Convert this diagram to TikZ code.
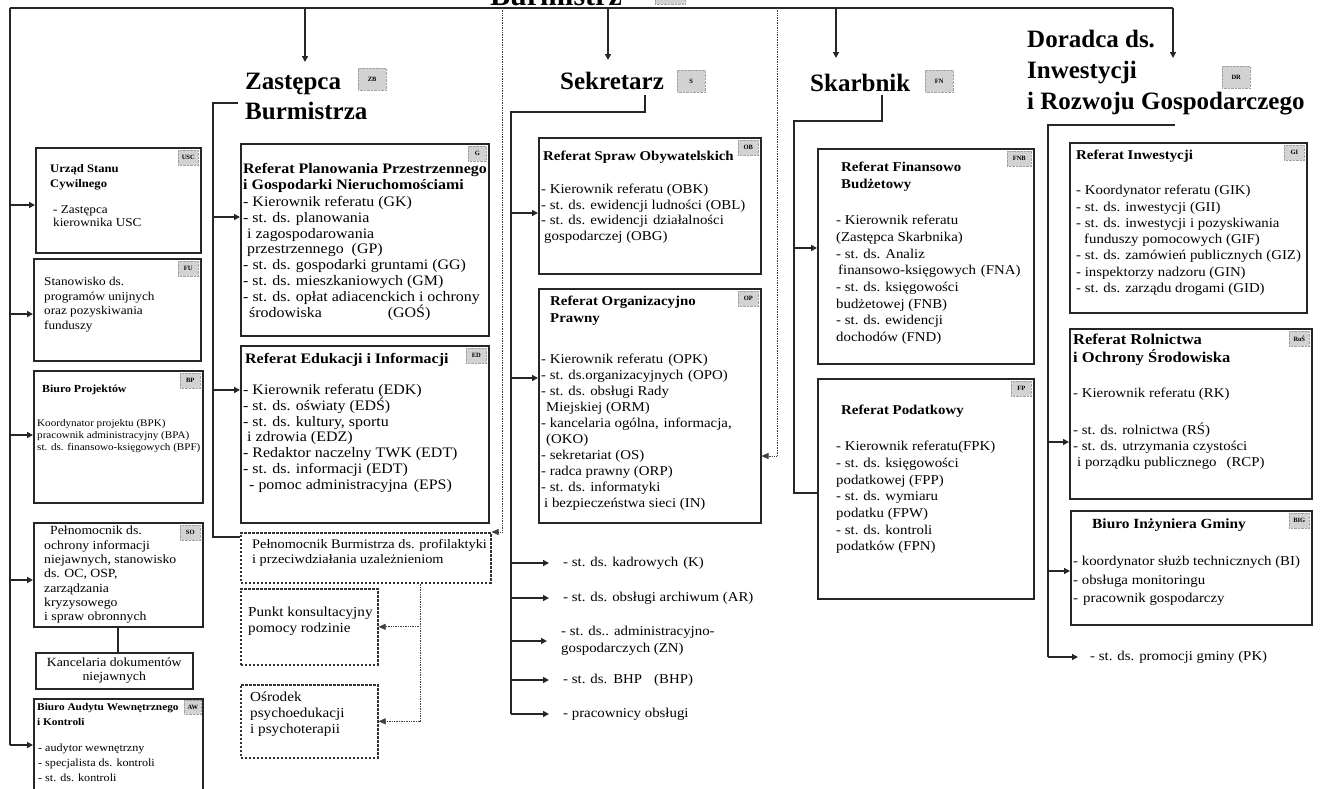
\documentclass[tikz,border=0pt]{standalone}
\usepackage{fontspec}
\setmainfont{Liberation Serif}
\newfontfamily\bodyf{Liberation Serif}[FakeStretch=1.1]
\usetikzlibrary{arrows.meta}
\tikzset{
 conn/.style={line width=2.2pt, black!85},
 arr/.style={conn, -{Triangle[length=6pt,width=6pt]}},
 bx/.style={draw=black!85, line width=1.5pt, anchor=north west, inner sep=0pt},
 dbx/.style={draw=black!80, line width=1.6pt, dash pattern=on 2.5pt off 1.5pt, anchor=north west, inner sep=0pt},
 code/.style={draw=gray!75, densely dotted, fill=gray!35, font=\bfseries\fontsize{6.5}{7}\selectfont, inner sep=1pt, anchor=north east, minimum width=20pt, minimum height=15pt},
 bigcode/.style={code, anchor=north west, minimum width=28pt, minimum height=22pt},
 txt/.style={anchor=north west, inner sep=0pt, align=left, font=\bodyf\fontsize{13.5}{16.5}\selectfont},
 btxt/.style={txt, font=\bodyf\bfseries\fontsize{13.5}{17}\selectfont},
 ptxt/.style={txt, font=\bodyf\fontsize{14.5}{15.8}\selectfont},
 pbtxt/.style={txt, font=\bodyf\bfseries\fontsize{14.5}{16}\selectfont},
 head/.style={anchor=north west, inner sep=0pt, align=left, font=\bfseries\fontsize{25}{30}\selectfont},
 dots/.style={densely dotted, line width=0.7pt, black!75},
 dotarr/.style={dots, -{Triangle[length=7pt,width=6pt]}},
}
\begin{document}
\begin{tikzpicture}[x=1pt,y=-1pt]
\useasboundingbox (0,0) rectangle (1321,788);
\clip (0,0) rectangle (1321,788);
\fill[white] (0,0) rectangle (1321,788);

% ---------------- Burmistrz (cut at top)
\node[anchor=base, inner sep=0pt, font=\bfseries\fontsize{30}{30}\selectfont] (bur) at (556,5) {Burmistrz};
\node[code, anchor=south west, minimum width=30pt, minimum height=16pt] (burc) at (655,4) {B};

\coordinate (tl) at (10,8);
\coordinate (tr) at (1173,8);
\coordinate (a1) at (305,8);
\coordinate (a2) at (608,8);
\coordinate (a3) at (836,8);
\coordinate (a1e) at (305,62);
\coordinate (a2e) at (608,60);
\coordinate (a3e) at (836,58);
\coordinate (a4e) at (1173,58);
\draw[conn, line width=2.4pt] (tl) -- (tr);
\draw[arr] (a1) -- (a1e);
\draw[arr] (a2) -- (a2e);
\draw[arr] (a3) -- (a3e);
\draw[arr] (tr) -- (a4e);

% ---------------- left column
\node[bx, minimum width=165pt, minimum height=105pt] (usc) at (35,147) {};
\node[code] (uscc) at ([xshift=-3pt,yshift=-3pt]usc.north east) {USC};
\node[txt, font=\bodyf\bfseries\fontsize{11.5}{15}\selectfont] (usct) at (50,164) {Urząd Stanu\\Cywilnego};
\node[txt, font=\bodyf\fontsize{12}{13}\selectfont] (usct2) at (53,205) {- Zastępca\\kierownika USC};

\node[bx, minimum width=167pt, minimum height=102pt] (fu) at (33,258) {};
\node[code] (fuc) at ([xshift=-3pt,yshift=-3pt]fu.north east) {FU};
\node[txt, font=\bodyf\fontsize{12}{14.7}\selectfont] (fut) at (44,277) {Stanowisko ds.\\programów unijnych\\oraz pozyskiwania\\funduszy};

\node[bx, minimum width=169pt, minimum height=132pt] (bp) at (33,370) {};
\node[code] (bpc) at ([xshift=-3pt,yshift=-3pt]bp.north east) {BP};
\node[txt, font=\bodyf\bfseries\fontsize{10.8}{12}\selectfont] (bpt) at (42,385) {Biuro Projektów};
\node[txt, font=\bodyf\fontsize{10.1}{12.2}\selectfont] (bpt2) at (37,419) {Koordynator projektu (BPK)\\pracownik administracyjny (BPA)\\st. ds. finansowo-księgowych (BPF)};

\node[bx, minimum width=169pt, minimum height=104pt] (so) at (33,522) {};
\node[code] (soc) at ([xshift=-3pt,yshift=-3pt]so.north east) {SO};
\node[txt, font=\bodyf\fontsize{12.5}{14.3}\selectfont] (sot) at (44,526) {\hspace*{6pt}Pełnomocnik ds.\\ochrony informacji\\niejawnych, stanowisko\\ds. OC, OSP,\\zarządzania\\kryzysowego\\i spraw obronnych};

\node[bx, minimum width=157pt, minimum height=36pt] (kanc) at (35,652) {};
\node[font=\bodyf\fontsize{12.5}{14}\selectfont, align=center, inner sep=0pt] (kanct) at (kanc.center) {Kancelaria dokumentów\\niejawnych};
\draw[conn] (so.south) -- (so.south |- kanc.north);

\node[bx, minimum width=169pt, minimum height=100pt] (aw) at (33,698) {};
\node[code, minimum width=17pt, minimum height=14pt] (awc) at ([xshift=-2pt,yshift=-2pt]aw.north east) {AW};
\node[txt, font=\bodyf\bfseries\fontsize{10.3}{15}\selectfont] (awt) at (37,703) {Biuro Audytu Wewnętrznego\\i Kontroli};
\node[txt, font=\bodyf\fontsize{11}{15}\selectfont] (awt2) at (38,744) {- audytor wewnętrzny\\- specjalista ds. kontroli\\- st. ds. kontroli};

\coordinate (ls1) at (10,205);
\coordinate (ls2) at (10,314);
\coordinate (ls3) at (10,435);
\coordinate (ls4) at (10,580);
\coordinate (ls5) at (10,745);
\draw[conn, line width=2.4pt] (tl) -- (ls5);
\draw[arr] (ls1) -- (ls1 -| usc.west);
\draw[arr] (ls2) -- (ls2 -| fu.west);
\draw[arr] (ls3) -- (ls3 -| bp.west);
\draw[arr] (ls4) -- (ls4 -| so.west);
\draw[arr] (ls5) -- (ls5 -| aw.west);

% ---------------- Zastepca Burmistrza
\node[head] (zhead) at (245,73) {Zastępca\\Burmistrza};
\node[bigcode] (zheadc) at (358,68) {ZB};

\node[bx, minimum width=248pt, minimum height=192pt] (plan) at (240,143) {};
\node[code, minimum width=18pt] (planc) at ([xshift=-3pt,yshift=-3pt]plan.north east) {G};
\node[pbtxt] (plant) at (243,163) {Referat Planowania Przestrzennego\\i Gospodarki Nieruchomościami};
\node[ptxt] (plant2) at (243,196) {- Kierownik referatu (GK)\\- st. ds. planowania\\\hspace*{4pt}i zagospodarowania\\\hspace*{4pt}przestrzennego\hspace{8pt}(GP)\\- st. ds. gospodarki gruntami (GG)\\- st. ds. mieszkaniowych (GM)\\-\hspace{4pt}st. ds. opłat adiacenckich i ochrony\\\hspace*{6pt}środowiska\hspace{66pt}(GOŚ)};

\node[bx, minimum width=248pt, minimum height=177pt] (edu) at (240,345) {};
\node[code] (educ) at ([xshift=-3pt,yshift=-3pt]edu.north east) {ED};
\node[pbtxt] (edut) at (245,353) {Referat Edukacji i Informacji};
\node[ptxt] (edut2) at (243,384) {- Kierownik referatu (EDK)\\- st. ds. oświaty (EDŚ)\\- st. ds. kultury, sportu\\\hspace*{4pt}i zdrowia (EDZ)\\- Redaktor naczelny TWK (EDT)\\- st. ds. informacji (EDT)\\\hspace*{6pt}- pomoc administracyjna\hspace{6pt}(EPS)};

\node[dbx, minimum width=250pt, minimum height=50pt] (pb) at (240,532) {};
\node[txt, font=\bodyf\fontsize{13}{15}\selectfont] (pbt) at (252,539) {Pełnomocnik Burmistrza ds. profilaktyki\\i przeciwdziałania uzależnieniom};

\node[dbx, minimum width=137pt, minimum height=76pt] (pk) at (240,588) {};
\node[txt, font=\bodyf\fontsize{13.8}{16}\selectfont] (pkt) at (248,607) {Punkt konsultacyjny\\pomocy rodzinie};

\node[dbx, minimum width=137pt, minimum height=73pt] (os) at (240,684) {};
\node[txt, font=\bodyf\fontsize{13.8}{16}\selectfont] (ost) at (250,692) {Ośrodek\\psychoedukacji\\i psychoterapii};

\coordinate (zc) at (238,103);
\coordinate (zs) at (213,103);
\coordinate (zb) at (213,537);
\coordinate (zs1) at (213,217);
\coordinate (zs2) at (213,390);
\draw[conn] (zc) -- (zs) -- (zb) -- (zb -| pb.west);
\draw[arr] (zs1) -- (zs1 -| plan.west);
\draw[arr] (zs2) -- (zs2 -| edu.west);

\coordinate (x420) at (420,0);
\draw[dotarr] (pb.south -| x420) |- (pk.east);
\draw[dotarr] (pb.south -| x420) |- (os.east);
\coordinate (d1) at (502,8);
\draw[dotarr] (d1) |- (pb.north east);

% ---------------- Sekretarz
\node[head] (shead) at (560,72) {Sekretarz};
\node[bigcode] (sheadc) at (677,70) {S};

\node[bx, minimum width=222pt, minimum height=136pt] (obyw) at (538,137) {};
\node[code] (obywc) at ([xshift=-3pt,yshift=-3pt]obyw.north east) {OB};
\node[btxt] (obywt) at (543,151) {Referat Spraw Obywatelskich};
\node[txt, font=\bodyf\fontsize{13.5}{15.5}\selectfont] (obywt2) at (541,184) {- Kierownik referatu (OBK)\\- st. ds. ewidencji ludności (OBL)\\- st. ds. ewidencji\hspace{5pt}działalności\\\hspace*{3pt}gospodarczej (OBG)};

\node[bx, minimum width=222pt, minimum height=234pt] (org) at (538,288) {};
\node[code] (orgc) at ([xshift=-3pt,yshift=-3pt]org.north east) {OP};
\node[btxt] (orgt) at (550,296) {Referat Organizacyjno\\Prawny};
\node[txt, font=\bodyf\fontsize{13.5}{16}\selectfont] (orgt2) at (541,354) {- Kierownik referatu\hspace{5pt}(OPK)\\- st. ds.organizacyjnych\hspace{5pt}(OPO)\\- st. ds. obsługi Rady\\\hspace*{5pt}Miejskiej (ORM)\\- kancelaria ogólna,\hspace{5pt}informacja,\\\hspace*{5pt}(OKO)\\- sekretariat (OS)\\- radca prawny (ORP)\\- st. ds. informatyki\\\hspace*{3pt}i bezpieczeństwa sieci (IN)};

\node[txt, anchor=west] (k1) at (563,563) {- st. ds. kadrowych\hspace{5pt}(K)};
\node[txt, anchor=west] (k2) at (563,598) {- st. ds. obsługi archiwum (AR)};
\node[txt, anchor=west] (k3) at (561,641) {- st. ds.. administracyjno-\\gospodarczych (ZN)};
\node[txt, anchor=west] (k4) at (563,680) {- st. ds.\hspace{6pt}BHP\hspace{12pt}(BHP)};
\node[txt, anchor=west] (k5) at (563,714) {- pracownicy obsługi};

\coordinate (sc) at (645,95);
\coordinate (s0) at (645,112);
\coordinate (s1) at (511,112);
\coordinate (s2) at (511,714);
\coordinate (ss1) at (511,213);
\coordinate (ss2) at (511,378);
\draw[conn] (sc) -- (s0) -- (s1) -- (s2);
\draw[arr] (ss1) -- (ss1 -| obyw.west);
\draw[arr] (ss2) -- (ss2 -| org.west);
\foreach \k in {k1,k2,k3,k4,k5}{
  \draw[arr] (\k.west -| s1) -- ([xshift=-14pt]\k.west);
}
\coordinate (d2) at (777,8);
\coordinate (osl) at (777,456);
\draw[dotarr] (d2) -- (osl) -- (osl -| org.east);

% ---------------- Skarbnik
\node[head] (fhead) at (810,74) {Skarbnik};
\node[bigcode] (fheadc) at (925,70) {FN};

\node[bx, minimum width=216pt, minimum height=215pt] (fin) at (817,148) {};
\node[code, minimum width=24pt] (finc) at ([xshift=-3pt,yshift=-3pt]fin.north east) {FNB};
\node[btxt] (fint) at (841,162) {Referat Finansowo\\Budżetowy};
\node[txt, font=\bodyf\fontsize{13.5}{16.7}\selectfont] (fint2) at (836,215) {- Kierownik referatu\\(Zastępca Skarbnika)\\- st. ds. Analiz\\\hspace*{2pt}finansowo-księgowych\hspace{5pt}(FNA)\\- st. ds. księgowości\\budżetowej (FNB)\\- st. ds. ewidencji\\dochodów (FND)};

\node[bx, minimum width=216pt, minimum height=220pt] (pod) at (817,378) {};
\node[code] (podc) at ([xshift=-3pt,yshift=-3pt]pod.north east) {FP};
\node[btxt] (podt) at (841,405) {Referat Podatkowy};
\node[txt, font=\bodyf\fontsize{13.5}{16.7}\selectfont] (podt2) at (836,441) {- Kierownik referatu(FPK)\\- st. ds. księgowości\\podatkowej (FPP)\\- st. ds. wymiaru\\podatku (FPW)\\- st. ds. kontroli\\podatków (FPN)};

\coordinate (fc) at (882,95);
\coordinate (f0) at (882,121);
\coordinate (f1) at (794,121);
\coordinate (f2) at (794,493);
\coordinate (fs1) at (794,248);
\draw[conn] (fc) -- (f0) -- (f1) -- (f2) -- (f2 -| pod.west);
\draw[arr] (fs1) -- (fs1 -| fin.west);

% ---------------- Doradca
\node[head, font=\bfseries\fontsize{25}{31}\selectfont] (dhead) at (1027,30) {Doradca ds.\\Inwestycji\\i Rozwoju Gospodarczego};
\node[bigcode] (dheadc) at (1222,66) {DR};

\node[bx, minimum width=237pt, minimum height=170pt] (inw) at (1069,142) {};
\node[code] (inwc) at ([xshift=-3pt,yshift=-3pt]inw.north east) {GI};
\node[btxt] (inwt) at (1076,150) {Referat Inwestycji};
\node[txt, font=\bodyf\fontsize{13.5}{16.3}\selectfont] (inwt2) at (1076,185) {- Koordynator referatu (GIK)\\- st. ds. inwestycji (GII)\\- st. ds. inwestycji i pozyskiwania\\\hspace*{8pt}funduszy pomocowych (GIF)\\- st. ds. zamówień publicznych (GIZ)\\- inspektorzy nadzoru (GIN)\\- st. ds. zarządu drogami (GID)};

\node[bx, minimum width=242pt, minimum height=170pt] (rol) at (1069,328) {};
\node[code] (rolc) at ([xshift=-3pt,yshift=-3pt]rol.north east) {RoŚ};
\node[btxt, font=\bodyf\bfseries\fontsize{15}{18}\selectfont] (rolt) at (1073,334) {Referat Rolnictwa\\i Ochrony Środowiska};
\node[txt] (rolt2) at (1073,388) {- Kierownik referatu (RK)};
\node[txt, font=\bodyf\fontsize{13.5}{16}\selectfont] (rolt3) at (1073,423) {- st. ds. rolnictwa (RŚ)\\- st. ds. utrzymania czystości\\\hspace*{4pt}i porządku publicznego\hspace{10pt}(RCP)};

\node[bx, minimum width=241pt, minimum height=114pt] (big) at (1070,510) {};
\node[code] (bigc) at ([xshift=-3pt,yshift=-3pt]big.north east) {BIG};
\node[btxt, font=\bodyf\bfseries\fontsize{14}{15}\selectfont] (bigt) at (1092,519) {Biuro Inżyniera Gminy};
\node[txt, font=\bodyf\fontsize{13.5}{18.5}\selectfont] (bigt2) at (1073,556) {- koordynator służb technicznych (BI)\\- obsługa monitoringu\\-\hspace{5pt}pracownik gospodarczy};

\node[txt, anchor=west] (promo) at (1090,657) {- st. ds. promocji gminy (PK)};

\coordinate (dc) at (1175,125);
\coordinate (d0) at (1048,125);
\coordinate (dd1) at (1048,442);
\coordinate (dd2) at (1048,571);
\coordinate (dd3) at (1048,657);
\draw[conn] (dc) -- (d0) -- (dd3);
\draw[arr] (dd1) -- (dd1 -| rol.west);
\draw[arr] (dd2) -- (dd2 -| big.west);
\draw[arr] (dd3) -- ([xshift=-12pt]promo.west);
\end{tikzpicture}
\end{document}
